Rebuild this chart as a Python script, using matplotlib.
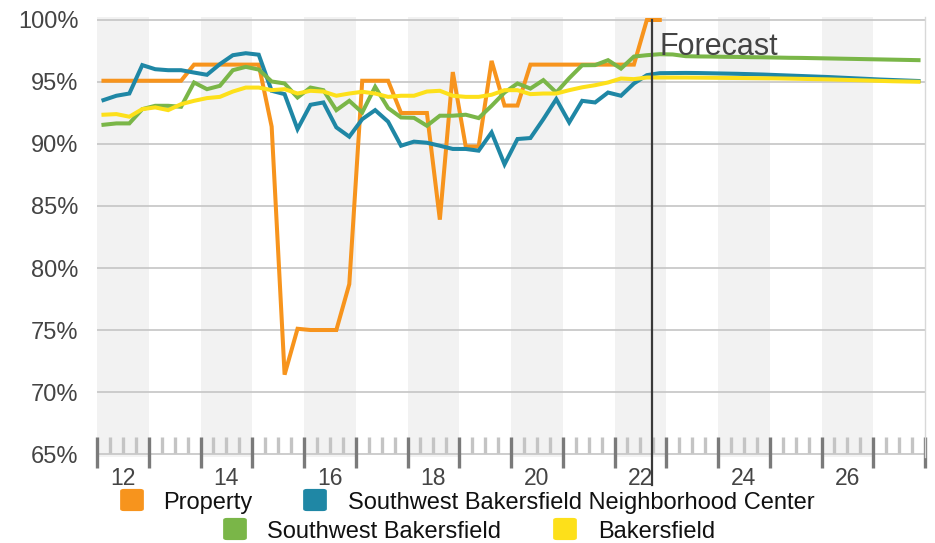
import numpy as np
import matplotlib
matplotlib.use("Agg")
import matplotlib.pyplot as plt
import matplotlib.transforms as mtransforms
from matplotlib.patches import FancyBboxPatch

plt.rcParams['font.family'] = ['Liberation Sans', 'DejaVu Sans']

# ---------------- data ----------------
quarters = [f"{y}Q{q}" for y in range(2012, 2028) for q in range(1, 5)]

property_vals = [95.1, 95.1, 95.1, 95.1, 95.1, 95.1, 95.1,
                 96.4, 96.4, 96.4, 96.4, 96.4, 96.4,
                 91.4, 71.4, 75.1, 75.0, 75.0, 75.0, 78.7,
                 95.1, 95.1, 95.1,
                 92.5, 92.5, 92.5,
                 83.9, 95.8, 89.8, 89.8, 96.7, 93.1, 93.1,
                 96.4, 96.4, 96.4, 96.4, 96.4, 96.4, 96.4, 96.4, 96.4,
                 100.0, 100.0]

neighborhood_vals = [93.54, 93.89, 94.07, 96.36, 96.03, 95.95, 95.95, 95.76,
                     95.58, 96.44, 97.16, 97.32, 97.20, 94.29, 94.02, 91.20,
                     93.16, 93.35, 91.34, 90.59, 92.00, 92.73, 91.80, 89.86,
                     90.19, 90.10, 89.86, 89.60, 89.60, 89.46, 90.93, 88.36,
                     90.40, 90.48, 92.00, 93.62, 91.74, 93.48, 93.35, 94.15,
                     93.89, 94.88, 95.55, 95.71,
                     95.72, 95.73, 95.72, 95.70, 95.68, 95.66, 95.63, 95.60,
                     95.56, 95.52, 95.48, 95.44, 95.40, 95.35, 95.30, 95.25,
                     95.20, 95.16, 95.12, 95.08]

submarket_vals = [91.55, 91.66, 91.66, 92.81, 93.08, 93.08, 93.00, 94.96,
                  94.42, 94.69, 95.95, 96.22, 96.00, 95.04, 94.88, 93.75,
                  94.55, 94.34, 92.73, 93.48, 92.54, 94.61, 92.90, 92.14,
                  92.11, 91.47, 92.28, 92.28, 92.36, 92.09, 93.08, 94.15,
                  94.88, 94.47, 95.15, 94.15, 95.31, 96.35, 96.36, 96.76,
                  96.08, 97.05, 97.16, 97.24,
                  97.22, 97.08, 97.06, 97.05, 97.03, 97.02, 97.00, 96.99,
                  96.97, 96.95, 96.94, 96.92, 96.90, 96.88, 96.86, 96.84,
                  96.82, 96.80, 96.78, 96.76]

market_vals = [92.36, 92.41, 92.20, 92.81, 92.95, 92.73, 93.21, 93.48,
               93.70, 93.80, 94.23, 94.55, 94.55, 94.34, 94.42, 94.07,
               94.29, 94.23, 93.89, 94.07, 94.21, 94.07, 93.80, 93.89,
               93.89, 94.23, 94.29, 93.89, 93.80, 93.80, 93.97, 94.34,
               94.34, 94.02, 94.07, 94.07, 94.34, 94.57, 94.74, 94.96,
               95.28, 95.23, 95.36, 95.36,
               95.36, 95.36, 95.35, 95.34, 95.33, 95.32, 95.31, 95.30,
               95.29, 95.27, 95.25, 95.23, 95.21, 95.18, 95.15, 95.12,
               95.09, 95.06, 95.04, 95.02]

series_names = ["Property", "Southwest Bakersfield Neighborhood Center",
                "Southwest Bakersfield", "Bakersfield"]
series_colors = ["#f7941d", "#1f87a5", "#7ab648", "#fde01a"]

forecast_start = 2022.73
y_ticks = [65, 70, 75, 80, 85, 90, 95, 100]
x_label_years = [2012, 2014, 2016, 2018, 2020, 2022, 2024, 2026]
first_year, last_year = 2012, 2028


def qpos(label):
    y, q = label.split("Q")
    return int(y) + (int(q) - 0.5) / 4


x_all = np.array([qpos(l) for l in quarters])

# ---------------- figure ----------------
W, H = 935, 543
fig = plt.figure(figsize=(W / 100, H / 100), dpi=100)
ax = fig.add_axes([97 / W, 1 - 457 / H, 828 / W, 440 / H])
ax.set_xlim(first_year, last_year)
ax.set_ylim(64.76, 100.24)

# alternating year bands
for yr in range(first_year, last_year, 2):
    ax.axvspan(yr, yr + 1, color="#f2f2f2", lw=0, zorder=0)

# horizontal grid
for v in y_ticks:
    ax.axhline(v, color="#c9c9c9", lw=1.3, zorder=1)

for s in ["top", "left", "bottom"]:
    ax.spines[s].set_visible(False)
ax.spines["right"].set_color("#d8d8d8")
ax.spines["right"].set_linewidth(1.0)

blend = mtransforms.blended_transform_factory(ax.transData, ax.transAxes)

# quarter minor ticks and year major ticks
for yr in range(first_year, last_year):
    for q in (0.25, 0.5, 0.75):
        ax.plot([yr + q, yr + q], [0.009, 0.045], transform=blend, color="#c4c4c4",
                lw=2.4, solid_capstyle="butt", clip_on=False, zorder=2)
for yr in range(first_year, last_year + 1):
    ax.plot([yr, yr], [-0.025, 0.045], transform=blend, color="#7a7a7a",
            lw=2.4, solid_capstyle="butt", clip_on=False, zorder=2)

# series
all_vals = [property_vals, neighborhood_vals, submarket_vals, market_vals]
for vals, col in zip(all_vals, series_colors):
    ax.plot(x_all[:len(vals)], vals, color=col, lw=2.9, zorder=3,
            solid_joinstyle="miter", clip_on=False)

# forecast line
ax.plot([forecast_start, forecast_start], [0.993, -0.064], transform=blend,
        color="#3a3a3a", lw=1.6, clip_on=False, zorder=5)
ax.text(forecast_start + 0.14, 97.18, "Forecast", fontsize=22, color="#444444",
        va="baseline", ha="left", zorder=6)

# ticks
ax.set_yticks(y_ticks)
ax.set_yticklabels([f"{v}%" for v in y_ticks])
ax.set_xticks([y + 0.5 for y in x_label_years])
ax.set_xticklabels([f"{y % 100}" for y in x_label_years])
ax.tick_params(axis="y", length=0, pad=13.5, labelsize=17, labelcolor="#444444")
ax.tick_params(axis="x", length=0, pad=7.5, labelsize=16.5, labelcolor="#444444")

# legend (manual)
legend_items = [
    (0, 120, 163, 500),
    (1, 303, 348, 500),
    (2, 223, 267, 529),
    (3, 553, 598, 529),
]
for idx, sx, tx, cy in legend_items:
    box = FancyBboxPatch(((sx + 2) / W, 1 - (cy + 10) / H), 20 / W, 20 / H,
                         boxstyle="round,pad=0.002,rounding_size=0.004",
                         transform=fig.transFigure, facecolor=series_colors[idx],
                         edgecolor="none")
    fig.patches.append(box)
    fig.text(tx / W, 1 - cy / H, series_names[idx], fontsize=17, color="#111111",
             va="center_baseline", ha="left")

fig.savefig("out.png", dpi=100)
